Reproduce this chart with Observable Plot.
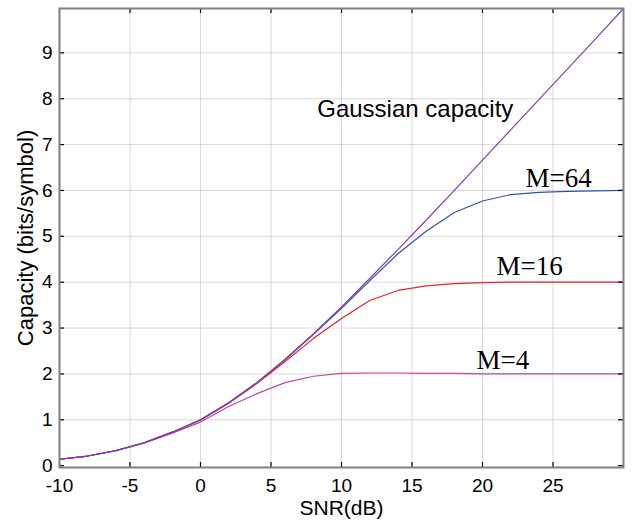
<!DOCTYPE html>
<html><head><meta charset="utf-8">
<script src="https://cdn.jsdelivr.net/npm/d3@7"></script>
<script src="https://cdn.jsdelivr.net/npm/@observablehq/plot@0.6"></script>
<style>body{margin:0;background:#fff}</style>
</head><body><div id="chart"></div>
<script>
// SNR grid (dB)
const snr = [-10,-8,-6,-4,-2,0,2,4,6,8,10,12,14,16,18,20,22,24,26,28,30];
// Capacity (bits/symbol)
const gaussian = [0.14,0.21,0.33,0.50,0.73,1.00,1.37,1.81,2.32,2.87,3.46,4.08,4.71,5.35,6.00,6.66,7.32,7.98,8.64,9.30,9.967];
const m64 = [0.14,0.21,0.33,0.50,0.73,1.00,1.37,1.81,2.31,2.86,3.43,4.03,4.62,5.11,5.52,5.77,5.91,5.96,5.98,5.99,6.00];
const m16 = [0.14,0.21,0.33,0.50,0.73,0.99,1.36,1.79,2.27,2.77,3.21,3.60,3.82,3.92,3.97,3.99,4.00,4.00,4.00,4.00,4.00];
const m4  = [0.14,0.21,0.32,0.49,0.71,0.95,1.29,1.57,1.81,1.95,2.01,2.02,2.02,2.01,2.01,2.00,2.00,2.00,2.00,2.00,2.00];

const xTicks = [-10,-5,0,5,10,15,20,25];
const yTicks = [0,1,2,3,4,5,6,7,8,9];

const seriesNames = ["M=4","M=16","M=64","Gaussian"];
const seriesValues = [m4, m16, m64, gaussian];
const seriesColors = ["#c4479f","#e8232b","#2c55a8","#8a3aa8"];

const labelText = ["M=64","M=16","M=4"];
const labelX = [23.05, 20.99, 19.57];
const labelY = [6.07, 4.16, 2.10];
const gaussText = ["Gaussian capacity"];
const gaussX = [8.28];
const gaussY = [7.61];

const W = 635, H = 524, mL = 59, mR = 12, mT = 8, mB = 57;
const plotW = W - mL - mR, plotH = H - mT - mB;

const lineMarks = seriesNames.map((n, k) =>
  Plot.lineY(snr.map((x, i) => ({snr: x, cap: seriesValues[k][i]})),
    {x: "snr", y: "cap", stroke: seriesColors[k], strokeWidth: 1.2}));

const chart = Plot.plot({
  width: W, height: H,
  marginLeft: mL, marginRight: mR, marginTop: mT, marginBottom: mB,
  style: {fontFamily: "'Liberation Sans', Arial, sans-serif", fontSize: "19px", background: "#fff", overflow: "visible"},
  x: {domain: [-10, 30]},
  y: {domain: [-0.04, 9.967]},
  marks: [
    Plot.gridX(xTicks.slice(1), {stroke: "#000", strokeOpacity: 0.15}),
    Plot.gridY(yTicks.slice(1), {stroke: "#000", strokeOpacity: 0.15}),
    ...lineMarks,
    Plot.text(gaussText, {x: (d,i) => gaussX[i], y: (d,i) => gaussY[i], text: d => d, textAnchor: "start", lineAnchor: "bottom", fontSize: 24, fill: "#000"}),
    Plot.text(labelText, {x: (d,i) => labelX[i], y: (d,i) => labelY[i], text: d => d, textAnchor: "start", lineAnchor: "bottom", fontSize: 27, fontFamily: "'Liberation Serif', 'DejaVu Serif', serif", fill: "#000"}),
    Plot.axisX({ticks: xTicks, tickFormat: d => String(d), tickSize: 0, tickPadding: 11, fontSize: 19, label: null, fill: "#000"}),
    Plot.axisY({ticks: yTicks, tickFormat: d => String(d), tickSize: 0, tickPadding: 7, fontSize: 19, label: null, fill: "#000"}),
    Plot.ruleX(xTicks, {x: d => d, insetTop: plotH - 5, stroke: "#000", strokeWidth: 1.2}),
    Plot.ruleX(xTicks, {x: d => d, insetBottom: plotH - 5, stroke: "#000", strokeWidth: 1.2}),
    Plot.ruleY(yTicks, {y: d => d, insetRight: plotW - 5, stroke: "#000", strokeWidth: 1.2}),
    Plot.ruleY(yTicks, {y: d => d, insetLeft: plotW - 5, stroke: "#000", strokeWidth: 1.2}),
    Plot.frame({stroke: "#808080", strokeWidth: 2}),
    Plot.text(["SNR(dB)"], {text: d => d, frameAnchor: "bottom", textAnchor: "middle", dy: 33, lineAnchor: "top", fontSize: 21, fill: "#000"}),
    Plot.text(["Capacity (bits/symbol)"], {text: d => d, frameAnchor: "left", textAnchor: "middle", dx: -34, rotate: -90, fontSize: 22, fill: "#000"})
  ]
});
document.getElementById("chart").appendChild(chart);
</script>
</body></html>
